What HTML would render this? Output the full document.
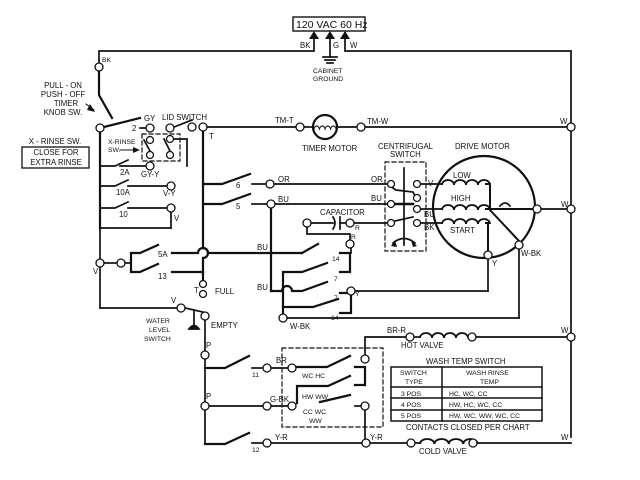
<!DOCTYPE html>
<html><head><meta charset="utf-8"><style>
html,body{margin:0;padding:0;background:#fff;}
svg{display:block;}
text{font-family:"Liberation Sans",sans-serif;font-size:7.8px;fill:#111;}
</style></head><body>
<svg width="640" height="480" viewBox="0 0 640 480" xmlns="http://www.w3.org/2000/svg">
<defs>
<path id="coil" d="M0 0 a6 5 0 0 1 12 0 a6 5 0 0 1 12 0 a6 5 0 0 1 12 0 a6 5 0 0 1 12 0" fill="none" stroke="#111" stroke-width="1.7"/>
</defs>
<g stroke="#111" stroke-width="1.7" fill="none" stroke-linecap="square">
<rect x="293" y="17" width="72" height="14" stroke-width="1.4"/>
<polyline points="314,36 314,51 99,51 99,63"/>
<polyline points="345,36 345,51 571,51 571,437"/>
<line x1="330" y1="36" x2="330" y2="57"/>
<line x1="323" y1="57" x2="337" y2="57"/><line x1="325" y1="60" x2="335" y2="60"/><line x1="327" y1="63" x2="333" y2="63"/>
<polyline points="99,71 99,95 112,118" stroke-width="2.2"/>
<line x1="100" y1="128" x2="140" y2="118" stroke-width="2.2"/>
<line x1="100" y1="132" x2="100" y2="228" stroke-width="2.2"/>
<line x1="100" y1="228" x2="171" y2="228"/>
<line x1="171" y1="212" x2="171" y2="228"/>
<line x1="100" y1="228" x2="100" y2="308"/>
<line x1="100" y1="308" x2="177" y2="308"/>
<line x1="140" y1="128" x2="146" y2="128"/>
<line x1="174" y1="127" x2="192" y2="120"/>
<line x1="207" y1="127" x2="296" y2="127"/>
<line x1="304" y1="127" x2="313" y2="127"/>
<line x1="337" y1="127" x2="357" y2="127"/>
<line x1="365" y1="127" x2="567" y2="127"/>
<rect x="142" y="134" width="38" height="27" stroke-dasharray="4,3" stroke-width="1.2"/>
<line x1="144" y1="140" x2="150" y2="151"/>
<line x1="164" y1="139" x2="170" y2="151"/>
<polyline points="174,139 187,139 187,166"/>
<polyline points="100,166 115,166 128,160"/><line x1="120" y1="166" x2="146" y2="166"/>
<polyline points="100,186 115,186 128,180"/><line x1="128" y1="186" x2="167" y2="186"/>
<polyline points="100,208 115,208 128,202"/><line x1="128" y1="208" x2="167" y2="208"/>
<path d="M203 131 L203 248 A5 5 0 0 1 203 258 L203 280" stroke-width="2.2"/>
<polyline points="203,184 222,184 250,174" stroke-width="2.2"/>
<polyline points="203,204 222,204 250,194" stroke-width="2.2"/>
<line x1="252" y1="184" x2="266" y2="184"/>
<line x1="274" y1="184" x2="387" y2="184"/>
<line x1="252" y1="204" x2="266" y2="204"/>
<line x1="274" y1="204" x2="387" y2="204"/>
<line x1="104" y1="263" x2="117" y2="263"/>
<polyline points="125,263 131,263"/>
<polyline points="158,245 140,253 131,253 131,272 140,272 158,264" stroke-width="2.2"/>
<path d="M172 253 L198 253 A5 5 0 0 1 208 253 L302 253" stroke-width="2.2"/>
<line x1="172" y1="272" x2="203" y2="272" stroke-width="2.2"/>
<line x1="271" y1="208" x2="271" y2="291" stroke-width="2.2"/>
<path d="M271 291 L282 291 A5 5 0 0 1 292 291 L302 291 L327 282" stroke-width="2.2"/>
<line x1="302" y1="253" x2="318" y2="244" stroke-width="2.2"/>
<polyline points="283,314 283,272 302,272 327,263" stroke-width="2.2"/>
<polyline points="283,307 313,307 338,299" stroke-width="2.2"/>
<polyline points="340,253 350,253 350,272 340,272" stroke-width="2.2"/>
<polyline points="340,293 351,293 351,313 340,313" stroke-width="2.2"/>
<line x1="351" y1="248" x2="351" y2="253"/>
<line x1="286" y1="318" x2="519" y2="318"/>
<line x1="519" y1="318" x2="519" y2="249"/>
<line x1="355" y1="291" x2="488" y2="291"/>
<line x1="488" y1="291" x2="488" y2="259"/>
<line x1="311" y1="223" x2="333" y2="223"/>
<path d="M333 217 Q337 223 333 229"/>
<line x1="340" y1="217" x2="340" y2="229"/>
<line x1="340" y1="223" x2="346" y2="223"/>
<line x1="354" y1="223" x2="387" y2="223"/>
<polyline points="307,227 307,234 350,234 350,240"/>
<rect x="385" y="162" width="41" height="89" stroke-dasharray="4,3" stroke-width="1.2"/>
<line x1="404" y1="168" x2="404" y2="245"/>
<polyline points="393,188 396,190 413,192 415,196"/>
<line x1="395" y1="204" x2="413" y2="204" stroke-width="2.4"/>
<line x1="395" y1="221" x2="413" y2="217"/>
<path d="M393 243 Q404 234 415 243"/>
<circle cx="484" cy="207" r="51" stroke-width="2.2"/>
<line x1="421" y1="184" x2="442" y2="184"/>
<line x1="421" y1="209" x2="442" y2="209"/>
<line x1="421" y1="223" x2="442" y2="223"/>
<polyline points="486,184 490,184 490,210 519,241" stroke-width="2"/>
<line x1="486" y1="209" x2="533" y2="209" stroke-width="2"/>
<polyline points="486,223 488,223 488,251" stroke-width="2"/>
<path d="M500 206 Q505 200 510 206"/>
<line x1="541" y1="209" x2="567" y2="209"/>
<line x1="185" y1="308" x2="207" y2="313"/>
<line x1="194" y1="310" x2="194" y2="326"/>
<path d="M189 329 Q194 322 199 329 Z" fill="#111"/>
<line x1="205" y1="320" x2="205" y2="351"/>
<line x1="205" y1="359" x2="205" y2="402"/>
<line x1="205" y1="410" x2="205" y2="444"/>
<polyline points="205,368 225,368 249,356" stroke-width="2.2"/>
<polyline points="205,444 225,444 249,433" stroke-width="2.2"/>
<line x1="252" y1="368" x2="263" y2="368"/>
<line x1="271" y1="368" x2="288" y2="368"/>
<line x1="252" y1="443" x2="263" y2="443"/>
<line x1="271" y1="443" x2="362" y2="443"/>
<line x1="209" y1="406" x2="263" y2="406"/>
<line x1="271" y1="406" x2="288" y2="406"/>
<rect x="282" y="348" width="101" height="79" stroke-dasharray="4,3" stroke-width="1.2"/>
<polyline points="296,367 327,367 350,356" stroke-width="2.2"/>
<polyline points="297,403 297,386 328,386 350,376" stroke-width="2.2"/>
<line x1="320" y1="402" x2="350" y2="395" stroke-width="2.2"/>
<polyline points="355,367 365,367 365,385 355,385" stroke-width="2.2"/>
<line x1="355" y1="406" x2="361" y2="406"/>
<polyline points="365,355 365,337 406,337"/>
<line x1="365" y1="410" x2="365" y2="438"/>
<line x1="370" y1="443" x2="407" y2="443"/>
<line x1="414" y1="337" x2="420" y2="337"/>
<line x1="468" y1="337" x2="567" y2="337"/>
<line x1="415" y1="443" x2="420" y2="443"/>
<line x1="477" y1="443" x2="571" y2="443"/>
<rect x="391" y="367" width="151" height="54" stroke-width="1.5"/>
<line x1="442" y1="367" x2="442" y2="421" stroke-width="1.5"/>
<line x1="391" y1="387" x2="542" y2="387" stroke-width="1.5"/>
<line x1="391" y1="398" x2="542" y2="398" stroke-width="1.5"/>
<line x1="391" y1="410" x2="542" y2="410" stroke-width="1.5"/>
<rect x="22" y="147" width="67" height="21" stroke-width="1.3"/>
<line x1="86" y1="104" x2="94" y2="110" stroke-width="1"/>
<line x1="120" y1="150" x2="137" y2="150" stroke-width="1"/>
</g>
<circle cx="325" cy="127" r="12" fill="#fff" stroke="#111" stroke-width="2.2"/>
<use href="#coil" transform="translate(314,130) scale(0.46,0.8)"/>
<use href="#coil" transform="translate(442,185)"/>
<use href="#coil" transform="translate(442,210)"/>
<use href="#coil" transform="translate(442,224)"/>
<use href="#coil" transform="translate(420,338)"/>
<use href="#coil" transform="translate(420,444) scale(1.2,1)"/>
<g fill="#111">
<polygon points="314,31 309,39 319,39"/>
<polygon points="330,31 325,39 335,39"/>
<polygon points="345,31 340,39 350,39"/>
<polygon points="95,112 90,104 87,110"/>
<polygon points="140,150 133,147 133,153"/>
<polygon points="391,246 395,240 397,247"/>
<polygon points="417,246 411,240 413,247"/>
</g>
<g fill="#fff" stroke="#111" stroke-width="1.3">
<circle cx="99" cy="67" r="4"/><circle cx="100" cy="128" r="4"/>
<circle cx="150" cy="128" r="4"/><circle cx="170" cy="128" r="4"/>
<circle cx="192" cy="127" r="4"/><circle cx="203" cy="127" r="4"/>
<circle cx="300" cy="127" r="4"/><circle cx="361" cy="127" r="4"/><circle cx="571" cy="127" r="4"/>
<circle cx="150" cy="140" r="3.5"/><circle cx="150" cy="155" r="3.5"/>
<circle cx="170" cy="139" r="3.5"/><circle cx="170" cy="155" r="3.5"/>
<circle cx="150" cy="166" r="4"/><circle cx="171" cy="186" r="4"/><circle cx="171" cy="208" r="4"/>
<circle cx="270" cy="184" r="4"/><circle cx="271" cy="204" r="4"/>
<circle cx="100" cy="263" r="4"/><circle cx="121" cy="263" r="4"/>
<circle cx="203" cy="284" r="3.5"/><circle cx="203" cy="294" r="3.5"/>
<circle cx="307" cy="223" r="4"/><circle cx="350" cy="223" r="4"/><circle cx="350" cy="244" r="4"/>
<circle cx="351" cy="291" r="4"/><circle cx="283" cy="318" r="4"/>
<circle cx="391" cy="184" r="3.5"/><circle cx="391" cy="204" r="3.5"/><circle cx="391" cy="223" r="3.5"/>
<circle cx="417" cy="184" r="3.5"/><circle cx="417" cy="198" r="3.5"/><circle cx="417" cy="209" r="3.5"/><circle cx="417" cy="223" r="3.5"/>
<circle cx="537" cy="209" r="4"/><circle cx="571" cy="209" r="4"/>
<circle cx="519" cy="245" r="4"/><circle cx="488" cy="255" r="4"/>
<circle cx="181" cy="308" r="4"/><circle cx="205" cy="316" r="4"/>
<circle cx="205" cy="355" r="4"/><circle cx="205" cy="406" r="4"/>
<circle cx="267" cy="368" r="4"/><circle cx="292" cy="368" r="4"/>
<circle cx="267" cy="406" r="4"/><circle cx="292" cy="406" r="4"/>
<circle cx="365" cy="359" r="4"/><circle cx="365" cy="406" r="4"/>
<circle cx="267" cy="443" r="4"/><circle cx="366" cy="443" r="4"/>
<circle cx="410" cy="337" r="4"/><circle cx="472" cy="337" r="4"/><circle cx="571" cy="337" r="4"/>
<circle cx="411" cy="443" r="4"/><circle cx="473" cy="443" r="4"/>
</g>
<text x="296" y="28" style="font-size:10.5px">120 VAC 60 Hz</text>
<text x="300" y="48">BK</text><text x="333" y="48">G</text><text x="350" y="48">W</text>
<text x="313" y="73" style="font-size:6.8px">CABINET</text><text x="313" y="81" style="font-size:6.8px">GROUND</text>
<text x="102" y="62" style="font-size:6.8px">BK</text>
<g text-anchor="middle" style="font-size:8.2px">
<text x="63" y="88">PULL - ON</text><text x="63" y="97">PUSH - OFF</text><text x="66" y="106">TIMER</text><text x="63" y="115">KNOB SW.</text>
<text x="55" y="144">X - RINSE SW.</text>
<text x="56" y="155">CLOSE FOR</text><text x="56" y="165">EXTRA RINSE</text>
</g>
<text x="108" y="144" style="font-size:6.8px">X-RINSE</text><text x="108" y="152" style="font-size:6.8px">SW.</text>
<text x="132" y="131">2</text><text x="144" y="121">GY</text><text x="162" y="120">LID SWITCH</text>
<text x="209" y="139">T</text>
<text x="275" y="123">TM-T</text><text x="367" y="124">TM-W</text><text x="560" y="124">W</text>
<text x="302" y="151">TIMER MOTOR</text>
<text x="378" y="149">CENTRIFUGAL</text><text x="390" y="157">SWITCH</text>
<text x="455" y="149">DRIVE MOTOR</text>
<text x="120" y="175">2A</text><text x="141" y="177">GY-Y</text>
<text x="116" y="195">10A</text><text x="163" y="196">V-Y</text>
<text x="119" y="217">10</text><text x="174" y="221">V</text>
<text x="236" y="188">6</text><text x="236" y="209">5</text>
<text x="278" y="182">OR</text><text x="278" y="202">BU</text>
<text x="371" y="182">OR</text><text x="371" y="201">BU</text>
<text x="320" y="215">CAPACITOR</text>
<text x="355" y="230" style="font-size:6.8px">R</text><text x="351" y="239" style="font-size:6.8px">R</text>
<text x="428" y="186">V</text><text x="424" y="217">BU</text><text x="424" y="230">BK</text>
<text x="453" y="178">LOW</text><text x="451" y="201">HIGH</text><text x="450" y="233">START</text>
<text x="561" y="207">W</text>
<text x="521" y="256">W-BK</text><text x="492" y="266">Y</text>
<text x="93" y="274">V</text>
<text x="158" y="257">5A</text><text x="158" y="279">13</text>
<text x="257" y="250">BU</text><text x="257" y="290">BU</text>
<text x="332" y="261" style="font-size:6.8px">14</text><text x="334" y="281" style="font-size:6.8px">7</text>
<text x="334" y="300" style="font-size:6.8px">7</text><text x="355" y="296" style="font-size:6.8px">Y</text>
<text x="331" y="320" style="font-size:6.8px">14</text>
<text x="290" y="329">W-BK</text>
<text x="194" y="293">T</text><text x="215" y="294">FULL</text>
<text x="171" y="303">V</text><text x="211" y="328">EMPTY</text>
<text x="146" y="323" style="font-size:6.8px">WATER</text><text x="149" y="332" style="font-size:6.8px">LEVEL</text><text x="144" y="341" style="font-size:6.8px">SWITCH</text>
<text x="206" y="348">P</text><text x="206" y="399">P</text>
<text x="252" y="377" style="font-size:6.8px">11</text><text x="276" y="363">BR</text>
<text x="270" y="402">G-BK</text>
<text x="302" y="378" style="font-size:6.8px">WC HC</text><text x="302" y="399" style="font-size:6.8px">HW WW</text>
<text x="303" y="414" style="font-size:6.8px">CC WC</text><text x="309" y="423" style="font-size:6.8px">WW</text>
<text x="252" y="452" style="font-size:6.8px">12</text><text x="275" y="440">Y-R</text><text x="370" y="440">Y-R</text>
<text x="387" y="333">BR-R</text><text x="401" y="348">HOT VALVE</text><text x="561" y="333">W</text>
<text x="426" y="364">WASH TEMP SWITCH</text>
<text x="400" y="375" style="font-size:6.8px">SWITCH</text><text x="405" y="384" style="font-size:6.8px">TYPE</text>
<text x="466" y="375" style="font-size:6.8px">WASH RINSE</text><text x="480" y="384" style="font-size:6.8px">TEMP</text>
<text x="401" y="396" style="font-size:6.8px">3 POS</text><text x="449" y="396" style="font-size:6.8px">HC, WC, CC</text>
<text x="401" y="407" style="font-size:6.8px">4 POS</text><text x="449" y="407" style="font-size:6.8px">HW, HC, WC, CC</text>
<text x="401" y="418" style="font-size:6.8px">5 POS</text><text x="449" y="418" style="font-size:6.8px">HW, WC, WW, WC, CC</text>
<text x="406" y="430">CONTACTS CLOSED PER CHART</text>
<text x="561" y="440">W</text>
<text x="419" y="454">COLD VALVE</text>
</svg>
</body></html>
